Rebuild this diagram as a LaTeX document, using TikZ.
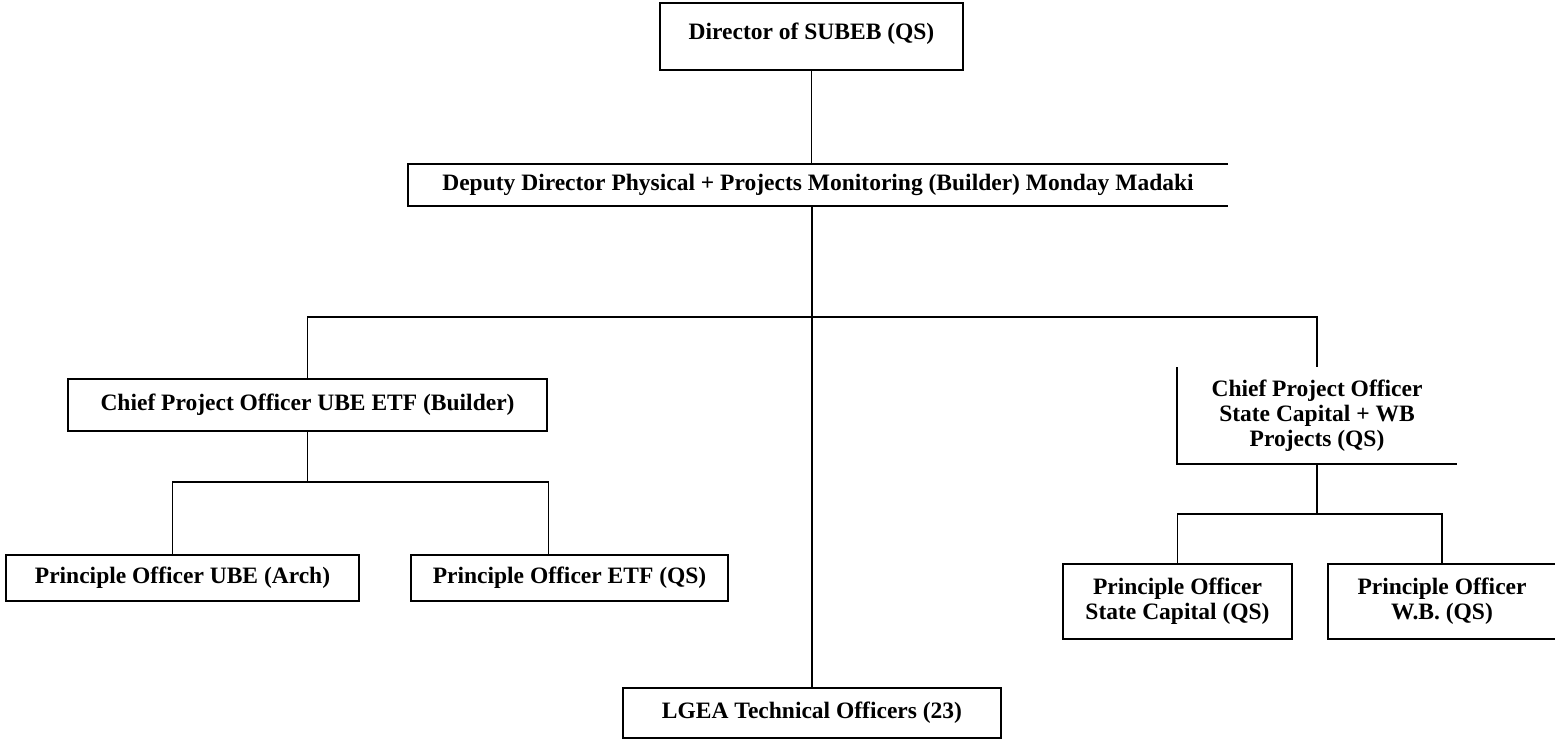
\documentclass[tikz,border=0pt]{standalone}
\usepackage{fontspec}
\setmainfont{Liberation Serif}
\begin{document}
\begin{tikzpicture}[x=1pt,y=-1pt,
  every node/.style={inner sep=0pt,outer sep=0pt,align=center,
    font=\bfseries\fontsize{23.5}{25}\selectfont},
  box/.style={draw,line width=1.5pt},
  open/.style={},
  conn/.style={line width=1.5pt},
  edge/.style={line width=1.5pt}]
\useasboundingbox (0,0) rectangle (1555,739);
\clip (0,0) rectangle (1555,739);
\fill[white] (0,0) rectangle (1555,739);

\node[box,minimum width=303pt,minimum height=67pt] (dir) at (811.5,36.5) {\raisebox{10pt}{Director of SUBEB (QS)}};
\node[open,minimum width=820pt,minimum height=42pt] (dep) at (818,185) {Deputy Director Physical + Projects Monitoring (Builder) Monday Madaki};
\node[box,minimum width=479pt,minimum height=52pt] (cu) at (307.5,405) {Chief Project Officer UBE ETF (Builder)};
\node[open,minimum width=280pt,minimum height=97pt] (cs) at (1317,415.5) {Chief Project Officer\\State Capital + WB\\Projects (QS)};
\node[box,minimum width=353pt,minimum height=46pt] (pu) at (182.5,578) {Principle Officer UBE (Arch)};
\node[box,minimum width=317pt,minimum height=46pt] (pe) at (569.5,578) {Principle Officer ETF (QS)};
\node[box,minimum width=229pt,minimum height=75pt] (ps) at (1177.5,601.5) {Principle Officer\\State Capital (QS)};
\node[box,minimum width=228pt,minimum height=75pt] (pw) at (1442,601.5) {Principle Officer\\W.B. (QS)};
\node[box,minimum width=378pt,minimum height=50pt] (lg) at (812,713) {LGEA Technical Officers (23)};

% open box edges
\draw[edge] (dep.north east) -- (dep.north west) -- (dep.south west) -- (dep.south east);
\draw[edge] (cs.north west) -- (cs.south west) -- (cs.south east);

% connectors
\coordinate (bus) at (812,317);
\coordinate (j1) at (307.5,482);
\coordinate (j2) at (1317,514);
\draw[conn] (dir.south) -- (dir.south |- dep.north);
\draw[conn] (lg.north |- dep.south) -- (lg.north);
\draw[conn] (cu.north) |- (bus) -| (cs.north);
\draw[conn] (cu.south) -- (j1);
\draw[conn] ([xshift=-10pt]pu.north) |- (j1) -| ([xshift=-21pt]pe.north);
\draw[conn] (cs.south) -- (j2);
\draw[conn] (ps.north) |- (j2) -| (pw.north);
\end{tikzpicture}
\end{document}
